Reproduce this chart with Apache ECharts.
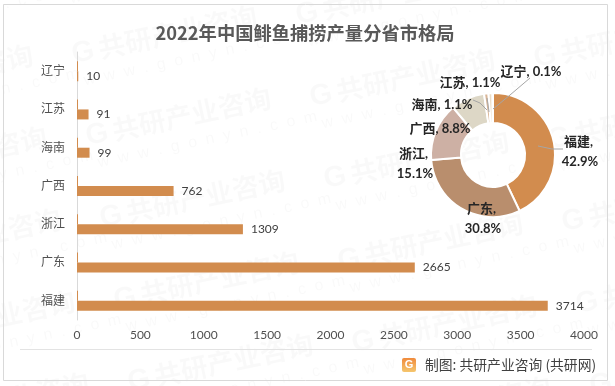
<!DOCTYPE html>
<html><head><meta charset="utf-8">
<style>html,body{margin:0;padding:0;background:#fff}#c{width:615px;height:386px}</style>
<script src="https://cdn.jsdelivr.net/npm/echarts@6/dist/echarts.min.js"></script>
</head><body><div id="c"></div>
<script>
const titleText = '2022年中国鲱鱼捕捞产量分省市格局';
const footerText = '制图: 共研产业咨询 (共研网)';
const provinces = ['辽宁','江苏','海南','广西','浙江','广东','福建'];
const output = [10,91,99,762,1309,2665,3714];
const thinSeries = [8,8,8,8,8,8,8];
const xTicks = {min:0,max:4000,interval:500};
const pieNames = ['福建','广东','浙江','广西','海南','江苏','辽宁'];
const pieValues = [3714,2665,1309,762,99,91,10];
const pieShares = ['42.9%','30.8%','15.1%','8.8%','1.1%','1.1%','0.1%'];
const pieColors = ['#D28C4E','#B98E6D','#CDB0A4','#DDD7C6','#D9B596','#EBDCC6','#F6CB9C'];
const pieLabelPos = [[580,152],[483,219],[415,164],[440,129],[442,105],[470,83],[531,72]];
const twoLine = [true,true,true,false,false,false,false];
const leaderLines = [[[538,146],[552,149],[563,149]],[[487,110],[480,103],[473,100]],[[489,112],[488,104],[487,98]],[[493,109],[510,95],[530,78]]];

const FONT = 'Lato, "Noto Sans CJK SC", sans-serif';
const wmColor = 'rgba(0,0,0,0.022)';
const wm = [];
for (let c=-2;c<4;c++) for (let r=-1;r<6;r++){
  const x = 70 + c*238 + r*14, y = 45 + c*43 + r*82;
  if (x<-260||x>620||y<-60||y>420) continue;
  wm.push({type:'group',x,y,rotation:12*Math.PI/180,silent:true,z:0,children:[
    {type:'text',style:{x:0,y:-4,text:'G',font:'900 29px "Liberation Sans"',fill:wmColor}},
    {type:'text',style:{x:27,y:-4,text:'共研产业咨询',font:'bold 27px "Noto Sans CJK SC"',fill:wmColor}},
    {type:'text',style:{x:6,y:30,text:'w  w  w  .  g  o  n  y  n  .  c  o  m',font:'16px "Liberation Sans"',fill:wmColor}}
  ]});
}
const chart = echarts.init(document.getElementById('c'),null,{renderer:'canvas'});
chart.setOption({
  animation:false,
  backgroundColor:'#fff',
  title:{text:titleText,left:300,top:19,textAlign:'center',textStyle:{fontFamily:'"Noto Sans CJK SC"',fontSize:18.3,fontWeight:'bold',color:'#595959'}},
  grid:{left:77,right:31,top:52,bottom:66,containLabel:false},
  xAxis:{type:'value',position:'bottom',min:xTicks.min,max:xTicks.max,interval:xTicks.interval,
    splitLine:{show:false},axisLine:{show:false},axisTick:{show:false},
    axisLabel:{color:'#505050',fontSize:12,fontFamily:FONT,margin:9,formatter:v=>String(v)}},
  yAxis:{type:'category',inverse:true,data:provinces,
    axisLine:{show:true,lineStyle:{color:'#d9d9d9',width:1}},axisTick:{show:false},
    axisLabel:{color:'#505050',fontSize:12,fontFamily:FONT,margin:12}},
  series:[
    {type:'bar',data:thinSeries,barWidth:10,barGap:0,itemStyle:{color:'#D28C4E'},silent:true},
    {type:'bar',data:output,barWidth:10,barGap:0,itemStyle:{color:'#D28C4E'},
      label:{show:true,position:'right',distance:8,color:'#404040',fontSize:12,fontFamily:FONT}},
    {type:'pie',center:[493,155],radius:[32,62],startAngle:90,clockwise:true,z:5,
      avoidLabelOverlap:false,
      itemStyle:{borderColor:'#fff',borderWidth:2},
      data:pieNames.map((n,i)=>({name:n,value:pieValues[i],itemStyle:{color:pieColors[i]}})),
      color:pieColors,
      label:{show:true,position:'outside',color:'#262626',fontSize:13,fontWeight:'bold',lineHeight:20,fontFamily:FONT,
        formatter:p=>p.name+', '+(twoLine[p.dataIndex]?'\n':'')+pieShares[p.dataIndex]},
      labelLine:{show:false},
      labelLayout:p=>({x:pieLabelPos[p.dataIndex][0],y:pieLabelPos[p.dataIndex][1],align:'center',verticalAlign:'middle'})
    }
  ],
  graphic:[
    ...wm,
    ...leaderLines.map(pts=>({type:'polyline',shape:{points:pts},style:{stroke:'#A6A6A6',lineWidth:1,fill:'none'},silent:true,z:10})),
    {type:'rect',shape:{x:3.5,y:4.5,width:604,height:376},style:{fill:'none',stroke:'#d9d9d9',lineWidth:1},silent:true,z:1},
    {type:'line',shape:{x1:20,y1:349.5,x2:592,y2:349.5},style:{stroke:'#e3e3e3',lineWidth:1},silent:true,z:1},
    {type:'rect',shape:{x:402,y:358,width:14,height:14,r:2},silent:true,z:1,
      style:{fill:new echarts.graphic.LinearGradient(0,0,0,1,[{offset:0,color:'#F08A3C'},{offset:1,color:'#F5C66E'}])}},
    {type:'text',silent:true,z:2,style:{x:409,y:365,text:'G',align:'center',verticalAlign:'middle',font:'bold 11px "Liberation Sans"',fill:'#fff'}},
    {type:'text',silent:true,z:1,style:{x:425,y:365,text:footerText,verticalAlign:'middle',font:'13.8px "Noto Sans CJK SC"',fill:'#404040'}}
  ]
});
</script></body></html>
